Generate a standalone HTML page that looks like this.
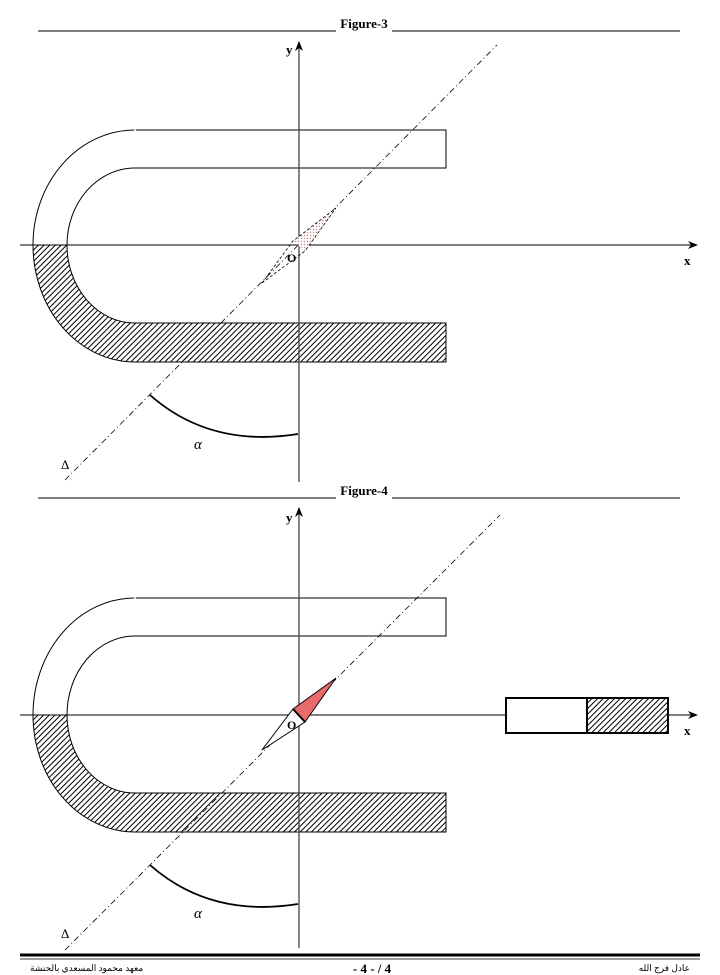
<!DOCTYPE html>
<html><head><meta charset="utf-8"><style>
html,body{margin:0;padding:0;background:#fff;}
svg{display:block;}
text{font-family:"Liberation Serif",serif;}
</style></head><body>
<svg width="720" height="975" viewBox="0 0 720 975" xmlns="http://www.w3.org/2000/svg">
<defs>
<pattern id="h" patternUnits="userSpaceOnUse" width="4" height="4" patternTransform="rotate(45)">
<rect width="4" height="4" fill="#fff"/><line x1="0" y1="0" x2="0" y2="4" stroke="#000" stroke-width="2"/>
</pattern>
<pattern id="dots" patternUnits="userSpaceOnUse" width="3" height="3">
<rect width="3" height="3" fill="#fff"/><circle cx="1.5" cy="1.5" r="0.7" fill="#c88"/>
</pattern>
<marker id="ar" markerWidth="10" markerHeight="8" refX="9" refY="4" orient="auto" markerUnits="userSpaceOnUse">
<path d="M0,0 L10,4 L0,8 L3,4 z" fill="#000"/>
</marker>
</defs>

<g id="f3">
<line x1="38" y1="31" x2="336" y2="31" stroke="#000" stroke-width="1"/>
<line x1="392" y1="31" x2="680" y2="31" stroke="#000" stroke-width="1"/>
<text x="364" y="28" font-size="13" font-weight="bold" text-anchor="middle">Figure-3</text>

<path d="M33,245 A102,117 0 0 0 135,362 L446,362 L446,323 L135,323 A68,78 0 0 1 67,245 Z" fill="url(#h)" stroke="#000" stroke-width="1"/>
<path d="M33,245 A102,115 0 0 1 135,130 L446,130 L446,168 L135,168 A68,77 0 0 0 67,245" fill="none" stroke="#000" stroke-width="1"/>
<line x1="135" y1="128" x2="135" y2="132" stroke="#fff" stroke-width="1.5"/>

<line x1="20" y1="245" x2="697" y2="245" stroke="#000" stroke-width="1" marker-end="url(#ar)"/>
<line x1="299" y1="482" x2="299" y2="42" stroke="#444" stroke-width="1.3" marker-end="url(#ar)"/>
<text x="286" y="54" font-size="13" font-weight="bold">y</text>
<text x="684" y="265" font-size="13" font-weight="bold">x</text>

<line x1="65" y1="480" x2="497" y2="45" stroke="#000" stroke-width="0.8" stroke-dasharray="6,3,1,3"/>
<text x="61" y="469" font-size="13">Δ</text>

<path d="M293,241 L336,208 L305,251 Z" fill="url(#dots)" stroke="none"/>
<path d="M262,283 L293,241 L336,208 L305,251 Z" fill="none" stroke="#000" stroke-width="0.8" stroke-dasharray="3,2"/>
<text x="287" y="262" font-size="12" font-weight="bold" font-family="Liberation Sans">O</text>

<path d="M150,395 Q210,448 298,434" fill="none" stroke="#000" stroke-width="1.8"/>
<text x="194" y="449" font-size="15" font-style="italic">α</text>
</g>

<g id="f4">
<line x1="38" y1="498" x2="336" y2="498" stroke="#000" stroke-width="1"/>
<line x1="392" y1="498" x2="680" y2="498" stroke="#000" stroke-width="1"/>
<text x="364" y="495" font-size="13" font-weight="bold" text-anchor="middle">Figure-4</text>

<path d="M33,715 A102,117 0 0 0 135,832 L446,832 L446,793 L135,793 A68,78 0 0 1 67,715 Z" fill="url(#h)" stroke="#000" stroke-width="1"/>
<path d="M33,715 A102,117 0 0 1 135,598 L446,598 L446,636 L135,636 A68,79 0 0 0 67,715" fill="none" stroke="#000" stroke-width="1"/>
<line x1="135" y1="596" x2="135" y2="600" stroke="#fff" stroke-width="1.5"/>

<line x1="20" y1="715" x2="697" y2="715" stroke="#000" stroke-width="1" marker-end="url(#ar)"/>
<line x1="299" y1="948" x2="299" y2="508" stroke="#444" stroke-width="1.3" marker-end="url(#ar)"/>
<text x="286" y="522" font-size="13" font-weight="bold">y</text>
<text x="684" y="735" font-size="13" font-weight="bold">x</text>

<rect x="506" y="698" width="81" height="35" fill="#fff" stroke="#000" stroke-width="2"/>
<rect x="587" y="698" width="81" height="35" fill="url(#h)" stroke="#000" stroke-width="2"/>

<line x1="65" y1="950" x2="500" y2="515" stroke="#000" stroke-width="0.8" stroke-dasharray="6,3,1,3"/>
<text x="61" y="938" font-size="13">Δ</text>

<path d="M262,750 L293,709 L305,722 Z" fill="#fff" stroke="#000" stroke-width="1"/>
<path d="M293,709 L336,678 L305,722 Z" fill="#e86a6a" stroke="#000" stroke-width="1"/>
<line x1="293" y1="709" x2="305" y2="722" stroke="#000" stroke-width="2"/>
<text x="287" y="729" font-size="12" font-weight="bold" font-family="Liberation Sans">O</text>

<path d="M150,865 Q210,918 298,904" fill="none" stroke="#000" stroke-width="1.8"/>
<text x="194" y="918" font-size="15" font-style="italic">α</text>
</g>

<line x1="20" y1="955" x2="700" y2="955" stroke="#000" stroke-width="3"/>
<line x1="20" y1="959" x2="700" y2="959" stroke="#000" stroke-width="0.8"/>
<text x="30" y="971" font-size="9" font-family="'Liberation Sans','DejaVu Sans',sans-serif">معهد محمود المسعدي بالحنشة</text>
<text x="372" y="973" font-size="13" font-weight="bold" text-anchor="middle">- 4 - / 4</text>
<text x="690" y="971" font-size="9" text-anchor="end" font-family="'Liberation Sans','DejaVu Sans',sans-serif">عادل فرج الله</text>
</svg>
</body></html>
